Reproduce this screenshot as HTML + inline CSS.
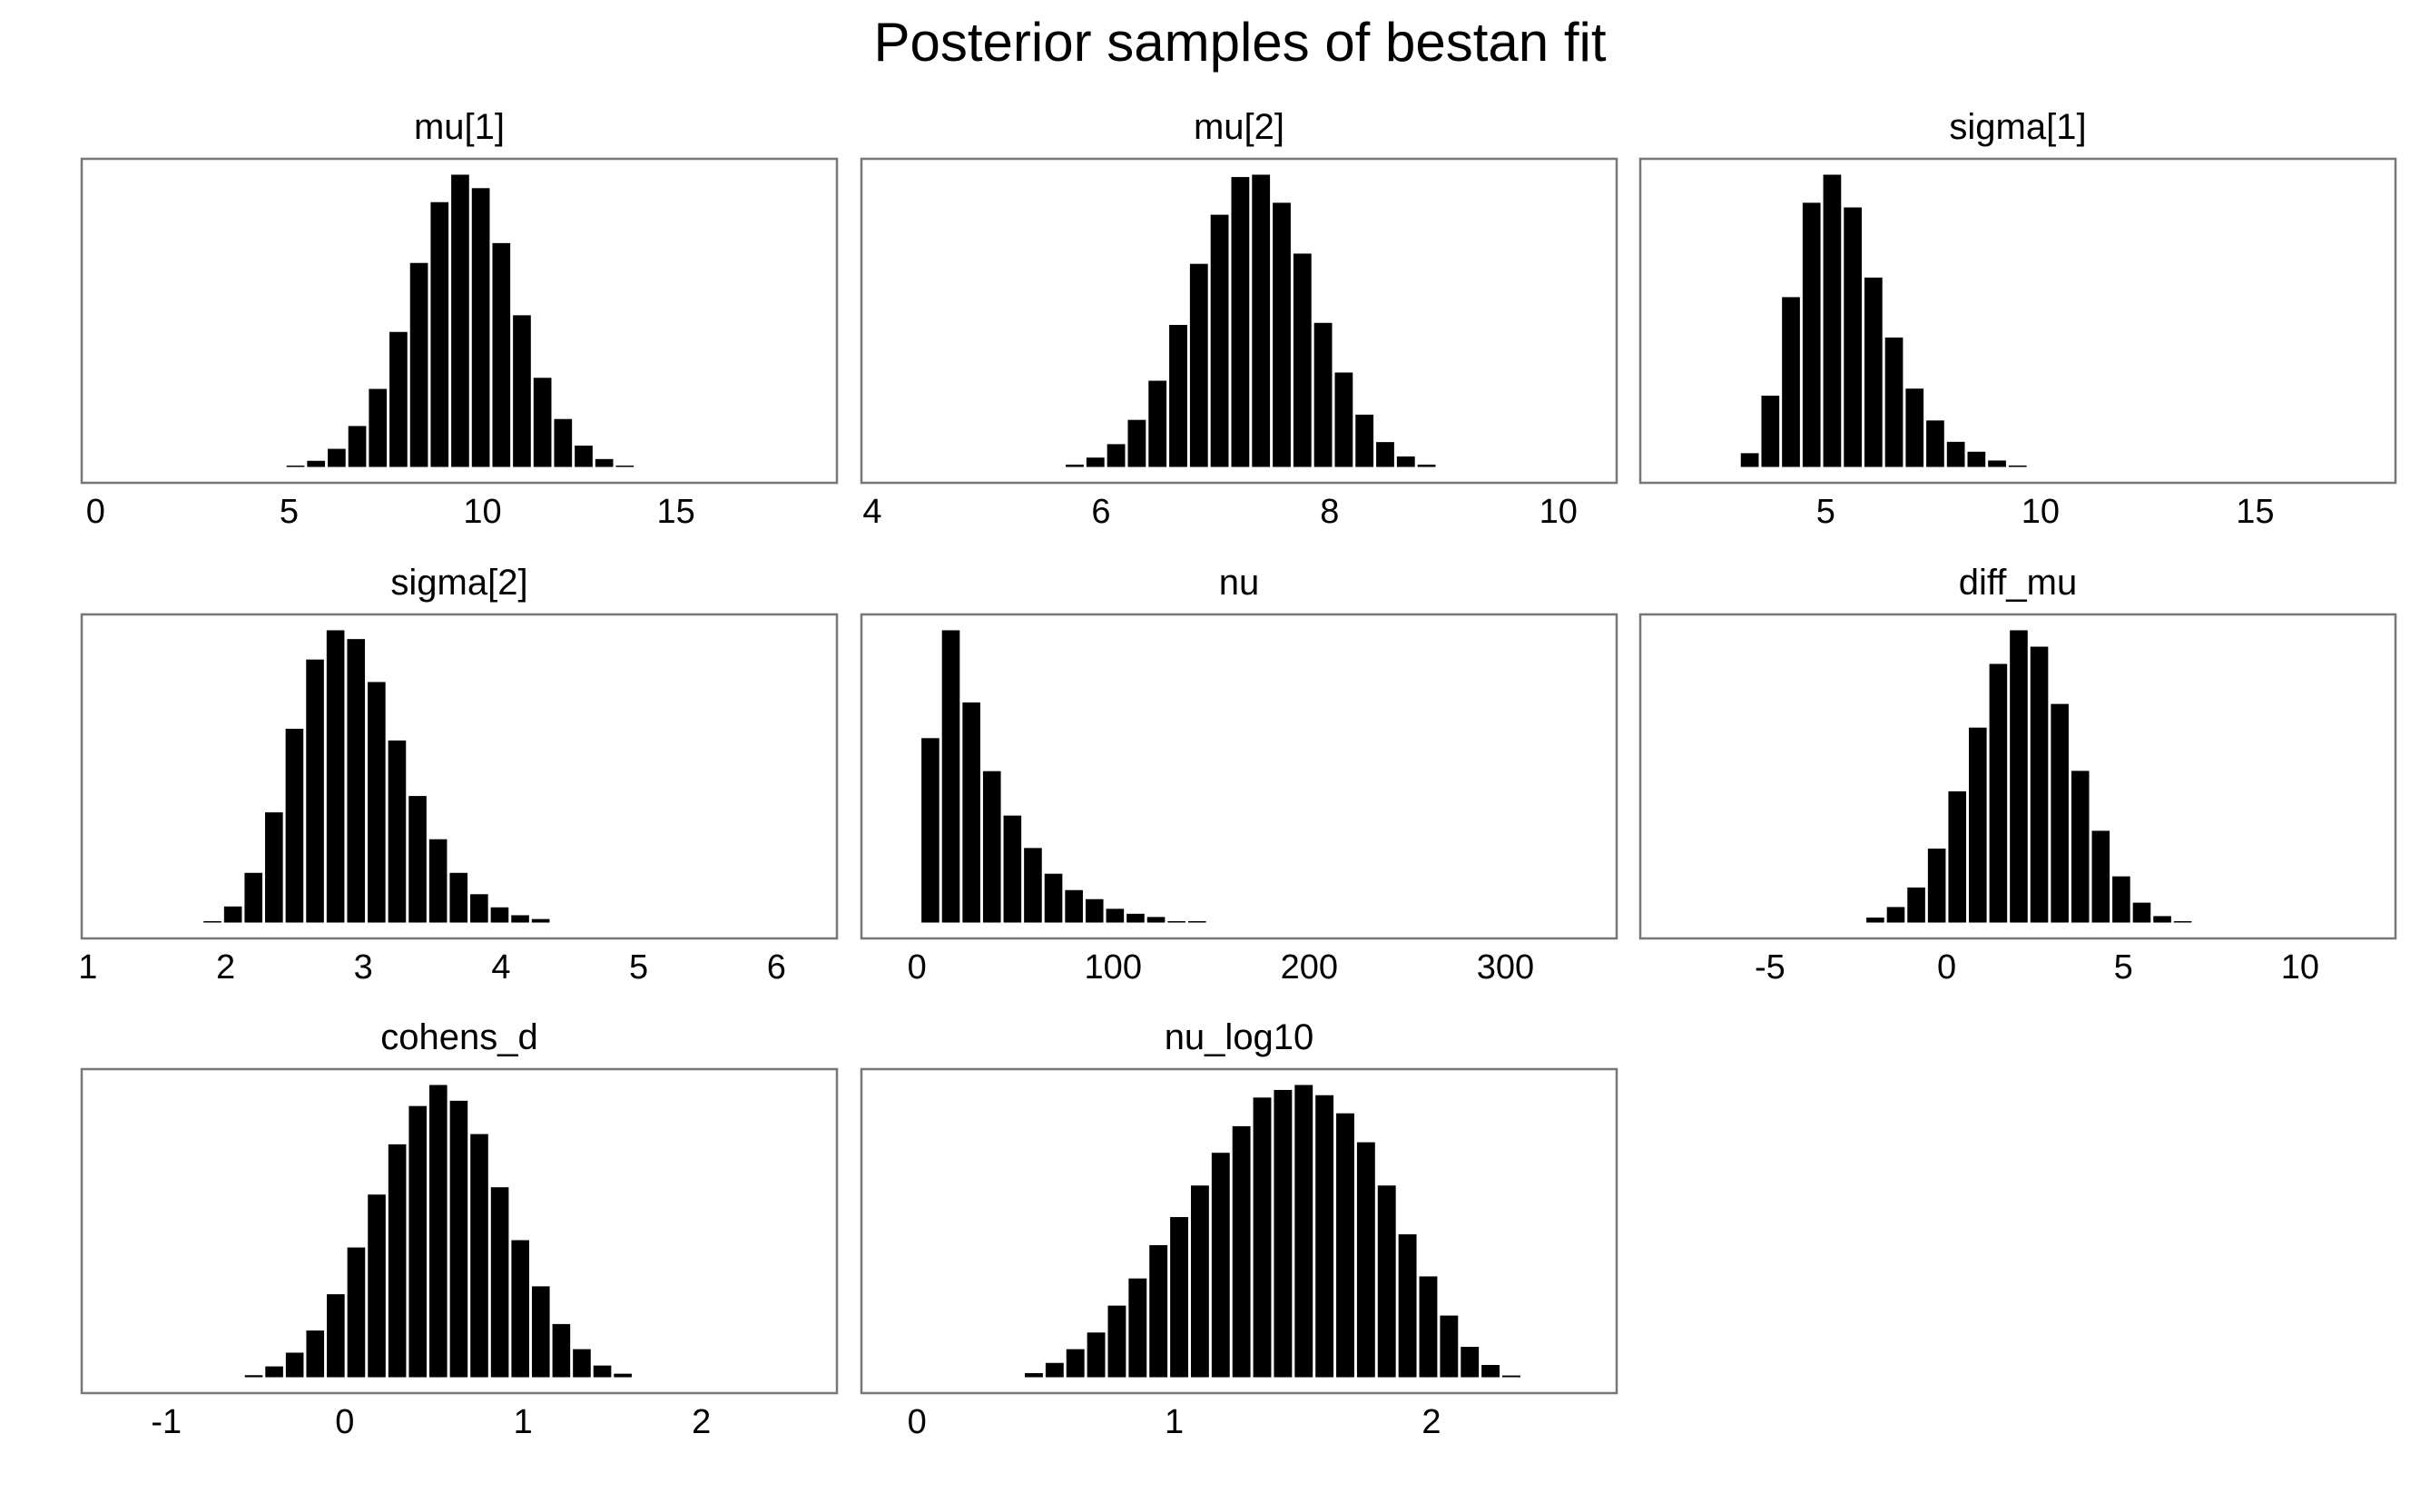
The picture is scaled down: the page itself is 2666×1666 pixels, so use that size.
<!DOCTYPE html>
<html><head><meta charset="utf-8"><style>
html,body{margin:0;padding:0;background:#fff;}
svg{display:block;font-family:"Liberation Sans",Arial,sans-serif;}
</style></head><body>
<svg id="chart" width="2666" height="1666" viewBox="0 0 2666 1666" xmlns="http://www.w3.org/2000/svg">
<rect width="2666" height="1666" fill="#fff"/>
<text x="1366" y="67" font-size="60" text-anchor="middle" fill="#000">Posterior samples of bestan fit</text>
</svg>
<script>
// panel names
const panelNames = ["mu[1]","mu[2]","sigma[1]","sigma[2]","nu","diff_mu","cohens_d","nu_log10"];
// histogram heights (relative to max) per parameter
const mu1Counts = [0.003,0.021,0.062,0.14,0.267,0.462,0.698,0.906,1.0,0.954,0.766,0.519,0.305,0.164,0.073,0.027,0.003];
const mu2Counts = [0.008,0.032,0.078,0.161,0.295,0.486,0.695,0.863,0.992,1.0,0.904,0.73,0.493,0.323,0.179,0.085,0.036,0.008];
const sigma1Counts = [0.047,0.244,0.581,0.904,1.0,0.888,0.648,0.443,0.268,0.159,0.086,0.052,0.022,0.005];
const sigma2Counts = [0.003,0.055,0.170,0.377,0.663,0.900,1.0,0.970,0.823,0.623,0.433,0.285,0.170,0.097,0.052,0.025,0.012];
const nuCounts = [0.631,1.0,0.753,0.518,0.366,0.255,0.167,0.111,0.080,0.047,0.030,0.019,0.004,0.002];
const diffMuCounts = [0.017,0.053,0.12,0.253,0.449,0.667,0.885,1.0,0.944,0.748,0.519,0.314,0.158,0.068,0.022,0.003];
const cohensDCounts = [0.007,0.037,0.084,0.16,0.284,0.444,0.625,0.797,0.928,1.0,0.946,0.832,0.65,0.469,0.311,0.182,0.096,0.04,0.012];
const nuLog10Counts = [0.014,0.049,0.096,0.153,0.245,0.338,0.452,0.548,0.656,0.768,0.859,0.957,0.983,1.0,0.965,0.903,0.804,0.656,0.489,0.345,0.211,0.104,0.042,0.006];
// bin starts and widths (data units)
const binStarts = [4.9,5.68,2.99,1.83,1.6,-2.31,-0.568,0.414];
const binWidths = [0.532,0.181,0.48,0.149,10.46,0.58,0.115,0.0807];
// x-axis limits
const xMins = [-0.36,3.905,0.68,0.955,-28.3,-8.67,-1.475,-0.216];
const xMaxs = [19.16,10.51,18.27,6.44,356.7,12.7,2.76,2.72];
// tick labels
const tickVals = [[0,5,10,15],[4,6,8,10],[5,10,15],[1,2,3,4,5,6],[0,100,200,300],[-5,0,5,10],[-1,0,1,2],[0,1,2]];
const allCounts = [mu1Counts,mu2Counts,sigma1Counts,sigma2Counts,nuCounts,diffMuCounts,cohensDCounts,nuLog10Counts];

const svg = document.getElementById('chart');
const NS = 'http://www.w3.org/2000/svg';
const colX = [90,949,1807], rowY = [175,677,1178], PW = 832, PH = 357;
function mk(tag, attrs){const e=document.createElementNS(NS,tag);for(const k in attrs)e.setAttribute(k,attrs[k]);return e;}

panelNames.forEach((name,i)=>{
  const px = colX[i%3], py = rowY[Math.floor(i/3)];
  const slug = name.replace(/[\[\]]/g,'').replace(/_/g,'-');
  const g = mk('g',{});
  
  
  svg.appendChild(g);
  const xs = v => px + (v - xMins[i]) / (xMaxs[i] - xMins[i]) * PW;
  const base = py + PH - PH*0.049, top = py + PH*0.049;
  const ys = v => base - v * (base - top);
  const t = mk('text',{x:px+PW/2,y:py-22,'font-size':40,'text-anchor':'middle',fill:'#000'});
  t.textContent = name;
  
  
  g.appendChild(t);
  allCounts[i].forEach((c,j)=>{
    const x0 = xs(binStarts[i] + j*binWidths[i]), x1 = xs(binStarts[i] + (j+1)*binWidths[i]);
    const y = ys(c);
    const r = mk('rect',{x:x0+1.5,y:Math.min(y,base-1.5),width:Math.max(1,x1-x0-3),height:Math.max(1.5,base-y),fill:'#000'});
    
    
    g.appendChild(r);
  });
  const b = mk('rect',{x:px,y:py,width:PW,height:PH,fill:'none',stroke:'#777','stroke-width':2.5});
  
  
  g.appendChild(b);
  tickVals[i].forEach(v=>{
    const tl = mk('text',{x:xs(v),y:py+PH+44,'font-size':38,'text-anchor':'middle',fill:'#000'});
    tl.textContent = String(v);
    
    
    g.appendChild(tl);
  });
});
</script>
</body></html>
